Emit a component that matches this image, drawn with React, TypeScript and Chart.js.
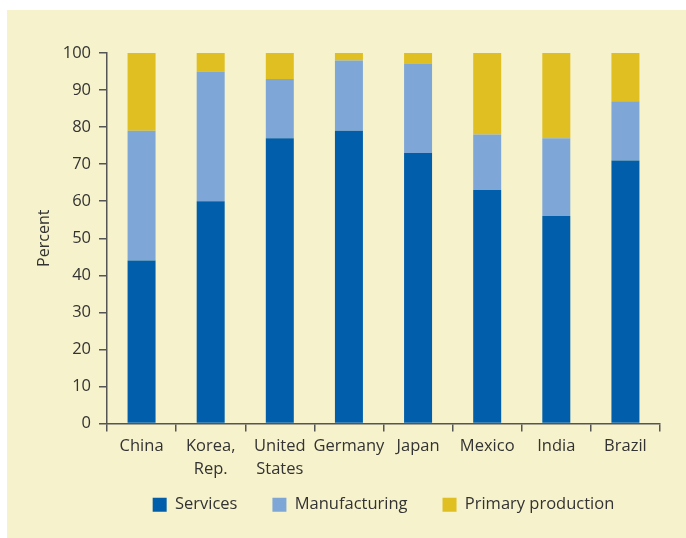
import React, { useEffect, useRef } from "react";
import { Chart, registerables } from "chart.js";

Chart.register(...registerables);

const categories: (string | string[])[] = [
  "China",
  ["Korea,", "Rep."],
  ["United", "States"],
  "Germany",
  "Japan",
  "Mexico",
  "India",
  "Brazil",
];
const services = [44, 60, 77, 79, 73, 63, 56, 71];
const manufacturing = [35, 35, 16, 19, 24, 15, 21, 16];
const primaryProduction = [21, 5, 7, 2, 3, 22, 23, 13];
const yTicks = [0, 10, 20, 30, 40, 50, 60, 70, 80, 90, 100];

const FONT = "'Open Sans', 'Noto Sans', sans-serif";
const TEXT = "#333333";
const AXIS = "#555555";

export default function App() {
  const ref = useRef<HTMLCanvasElement | null>(null);
  useEffect(() => {
    if (!ref.current) return;
    const chart = new Chart(ref.current, {
      type: "bar",
      data: {
        labels: categories,
        datasets: [
          { label: "Services", data: services, backgroundColor: "#005EAB" },
          { label: "Manufacturing", data: manufacturing, backgroundColor: "#7EA7D8" },
          { label: "Primary production", data: primaryProduction, backgroundColor: "#DFBF22" },
        ],
      },
      options: {
        responsive: false,
        animation: false,
        datasets: { bar: { categoryPercentage: 1, barPercentage: 0.405 } },
        layout: { padding: { top: 43, right: 26, left: 0, bottom: 15 } },
        plugins: {
          tooltip: { enabled: false },
          legend: {
            position: "bottom",
            fullSize: false,
            labels: {
              boxWidth: 14,
              boxHeight: 14,
              padding: 35,
              color: TEXT,
              font: { family: FONT, size: 16.5 },
            },
          },
        },
        scales: {
          x: {
            stacked: true,
            afterFit: (s: any) => {
              s.height = 38;
              s._computeLabelArea = () => undefined;
            },
            grid: { drawOnChartArea: false, drawTicks: true, tickLength: 8, color: AXIS, lineWidth: 1.5 },
            border: { color: AXIS, width: 1.5 },
            ticks: {
              color: TEXT,
              padding: 3,
              maxRotation: 0,
              autoSkip: false,
              font: { family: FONT, size: 16.5, lineHeight: 1.4 },
            },
          },
          y: {
            stacked: true,
            min: 0,
            max: 100,
            afterFit: (s: any) => {
              s.width = 100;
            },
            afterBuildTicks: (s: any) => {
              s.ticks = yTicks.map((v) => ({ value: v }));
            },
            grid: { drawOnChartArea: false, drawTicks: true, tickLength: 8, color: AXIS, lineWidth: 1.5 },
            border: { color: AXIS, width: 1.5 },
            ticks: {
              color: TEXT,
              padding: 8,
              font: { family: FONT, size: 16.5 },
            },
            title: {
              display: true,
              text: "Percent",
              color: TEXT,
              padding: { top: 28, bottom: 0 },
              font: { family: FONT, size: 16 },
            },
          },
        },
      },
    });
    return () => chart.destroy();
  }, []);

  return (
    <div style={{ position: "fixed", left: 0, top: 0, width: 686, height: 538, background: "#ffffff" }}>
      <div style={{ position: "absolute", left: 7, top: 10, width: 679, height: 528, background: "#F6F2CB" }}>
        <canvas ref={ref} width={679} height={528} style={{ width: 679, height: 528, display: "block" }} />
      </div>
    </div>
  );
}
